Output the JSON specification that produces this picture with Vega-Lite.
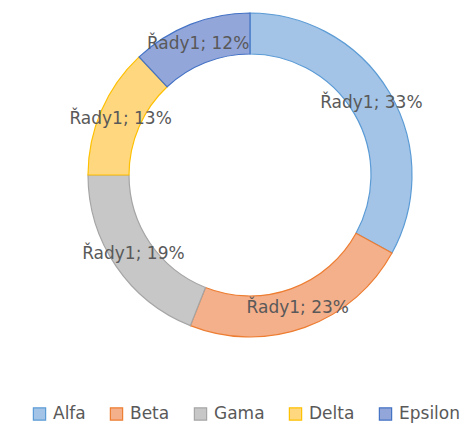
{
  "$schema": "https://vega.github.io/schema/vega-lite/v6.json",
  "width": 440,
  "height": 350,
  "autosize": {"type": "none"},
  "padding": {"left": 30, "top": 0, "right": 0, "bottom": 73},
  "background": "white",
  "config": {"view": {"stroke": null}, "font": "DejaVu Sans"},
  "data": {
    "values": [
      {"kategorie": "Alfa", "hodnota": 33, "poradi": 1, "popisek": "Řady1; 33%"},
      {"kategorie": "Beta", "hodnota": 23, "poradi": 2, "popisek": "Řady1; 23%"},
      {"kategorie": "Gama", "hodnota": 19, "poradi": 3, "popisek": "Řady1; 19%"},
      {"kategorie": "Delta", "hodnota": 13, "poradi": 4, "popisek": "Řady1; 13%"},
      {"kategorie": "Epsilon", "hodnota": 12, "poradi": 5, "popisek": "Řady1; 12%"}
    ]
  },
  "encoding": {
    "theta": {"field": "hodnota", "type": "quantitative", "stack": true},
    "order": {"field": "poradi", "type": "quantitative"}
  },
  "layer": [
    {
      "mark": {"type": "arc", "innerRadius": 121, "outerRadius": 162, "strokeWidth": 1.2},
      "encoding": {
        "fill": {
          "field": "kategorie",
          "type": "nominal",
          "sort": ["Alfa", "Beta", "Gama", "Delta", "Epsilon"],
          "scale": {
            "domain": ["Alfa", "Beta", "Gama", "Delta", "Epsilon"],
            "range": ["#a3c4e7", "#f4af8b", "#c7c7c7", "#fed77f", "#93a6da"]
          },
          "legend": {
            "title": null,
            "orient": "none",
            "direction": "horizontal",
            "legendX": 1,
            "legendY": 405,
            "symbolType": "square",
            "symbolSize": 150,
            "symbolStrokeWidth": 1.2,
            "labelFontSize": 17,
            "labelColor": "#595959",
            "labelFont": "DejaVu Sans",
            "labelOffset": 5,
            "columnPadding": 21
          }
        },
        "stroke": {
          "field": "kategorie",
          "type": "nominal",
          "sort": ["Alfa", "Beta", "Gama", "Delta", "Epsilon"],
          "scale": {
            "domain": ["Alfa", "Beta", "Gama", "Delta", "Epsilon"],
            "range": ["#5b9bd5", "#ed7d31", "#a5a5a5", "#ffc000", "#4472c4"]
          },
          "legend": {
            "title": null,
            "orient": "none",
            "direction": "horizontal",
            "legendX": 1,
            "legendY": 405,
            "symbolType": "square",
            "symbolSize": 150,
            "symbolStrokeWidth": 1.2,
            "labelFontSize": 17,
            "labelColor": "#595959",
            "labelFont": "DejaVu Sans",
            "labelOffset": 5,
            "columnPadding": 21
          }
        }
      }
    },
    {
      "mark": {"type": "text", "radius": 141, "fontSize": 17, "color": "#595959", "font": "DejaVu Sans"},
      "encoding": {
        "text": {"field": "popisek", "type": "nominal"}
      }
    }
  ]
}
